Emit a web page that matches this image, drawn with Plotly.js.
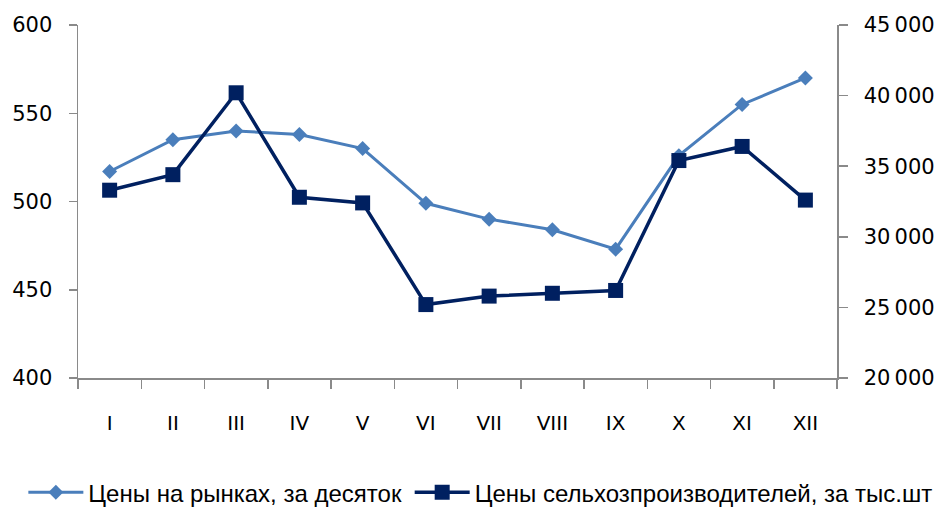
<!DOCTYPE html>
<html>
<head>
<meta charset="utf-8">
<script src="https://cdn.plot.ly/plotly-3.0.1.min.js"></script>
<style>html,body{margin:0;padding:0;background:#fff;}#chart{width:940px;height:509px;}</style>
</head>
<body>
<div id="chart"></div>
<script>
var months = ["I","II","III","IV","V","VI","VII","VIII","IX","X","XI","XII"];
var marketPrices = [517, 535, 540, 538, 530, 499, 490, 484, 473, 526, 555, 570];
var producerPrices = [33300, 34400, 40200, 32800, 32400, 25200, 25800, 26000, 26200, 35400, 36400, 32600];
var marketName = "Цены на рынках, за десяток";
var producerName = "Цены сельхозпроизводителей, за тыс.шт";
var leftTicks = [400, 450, 500, 550, 600];
var rightTicks = [20000, 25000, 30000, 35000, 40000, 45000];
var rightTickText = rightTicks.map(function (v) {
  return String(v).replace(/\B(?=(\d{3})+$)/g, "\u2009");
});

var axisColor = "#8a8a8a";

var traces = [
  {
    x: months, y: marketPrices, name: marketName, type: "scatter", mode: "lines+markers",
    line: {color: "#4a7ebb", width: 3},
    marker: {symbol: "diamond", size: 11.5, color: "#4a7ebb"},
    yaxis: "y", legend: "legend"
  },
  {
    x: months, y: producerPrices, name: producerName, type: "scatter", mode: "lines+markers",
    line: {color: "#002060", width: 3.5},
    marker: {symbol: "square", size: 15, color: "#002060"},
    yaxis: "y2", legend: "legend2"
  }
];

var legendFont = {family: "Liberation Sans", size: 24, color: "#000"};

var layout = {
  width: 940, height: 509,
  margin: {l: 78, r: 103, t: 25, b: 131, autoexpand: false},
  paper_bgcolor: "#fff", plot_bgcolor: "#fff",
  showlegend: true,
  xaxis: {
    type: "category", range: [-0.5, 11.5], automargin: false,
    showgrid: false, zeroline: false,
    showline: true, linecolor: axisColor, linewidth: 1.5,
    ticks: "outside", tickson: "boundaries", ticklen: 9, tickcolor: axisColor, tickwidth: 1.5,
    tickfont: {family: "DejaVu Sans", size: 20, color: "#000"}, ticklabelstandoff: 26
  },
  yaxis: {
    range: [400, 600], tickvals: leftTicks, automargin: false,
    showgrid: false, zeroline: false,
    showline: true, linecolor: axisColor, linewidth: 1.5,
    ticks: "outside", ticklen: 8, tickcolor: axisColor, tickwidth: 1.5,
    tickfont: {family: "DejaVu Sans", size: 21, color: "#000"}, ticklabelstandoff: 12
  },
  yaxis2: {
    range: [20000, 45000], tickvals: rightTicks, ticktext: rightTickText, automargin: false,
    overlaying: "y", side: "right",
    showgrid: false, zeroline: false,
    showline: true, linecolor: axisColor, linewidth: 1.5,
    ticks: "outside", ticklen: 9, tickcolor: axisColor, tickwidth: 1.5,
    tickfont: {family: "DejaVu Sans", size: 21, color: "#000"}, ticklabelstandoff: 12
  },
  legend: {
    orientation: "h", x: -0.072, xanchor: "left", y: -0.325, yanchor: "middle",
    font: legendFont, itemwidth: 55, bgcolor: "rgba(0,0,0,0)"
  },
  legend2: {
    orientation: "h", x: 0.437, xanchor: "left", y: -0.325, yanchor: "middle",
    font: legendFont, itemwidth: 55, bgcolor: "rgba(0,0,0,0)"
  }
};

Plotly.newPlot("chart", traces, layout, {staticPlot: true, displayModeBar: false});
</script>
</body>
</html>
